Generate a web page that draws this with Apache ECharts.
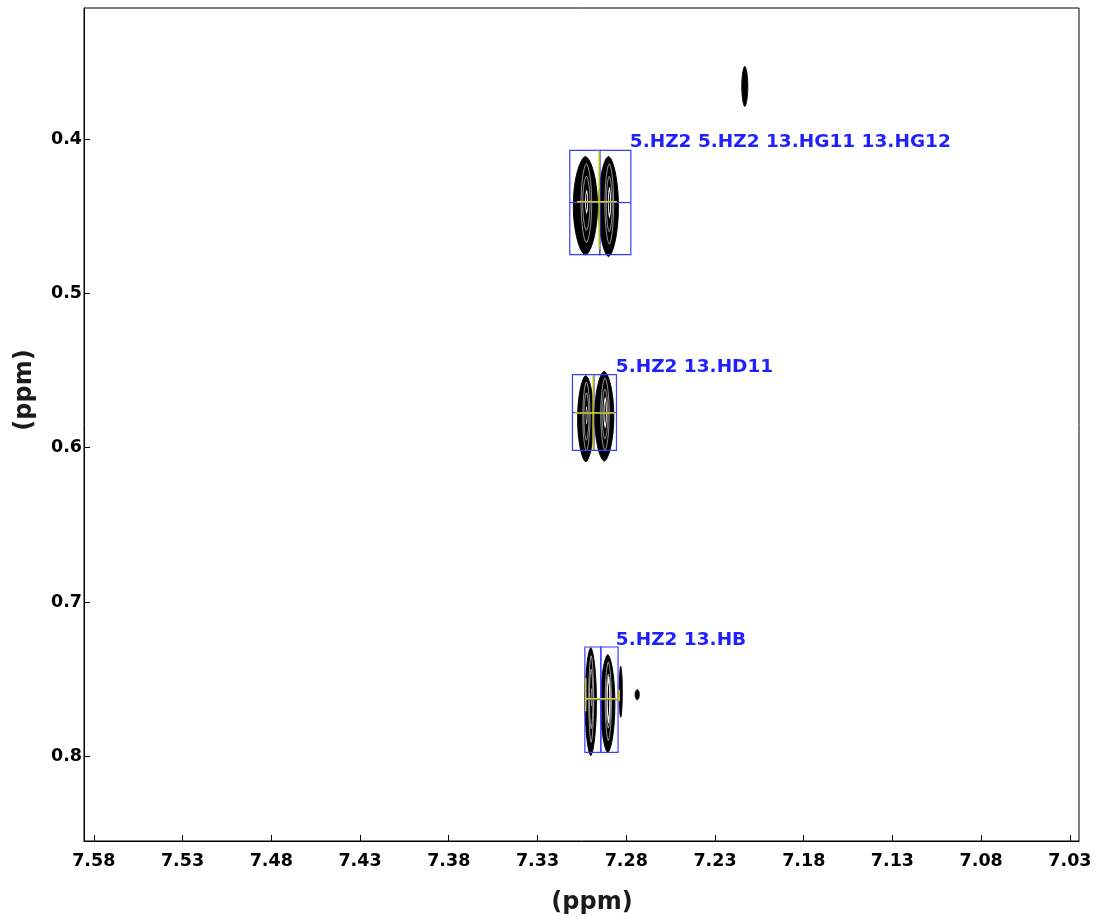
<!DOCTYPE html>
<html><head><meta charset="utf-8">
<script src="https://cdn.jsdelivr.net/npm/echarts@6/dist/echarts.min.js"></script>
<style>html,body{margin:0;padding:0;background:#fff}#c{width:1103px;height:921px}</style>
</head><body><div id="c"></div>
<script>
// Axis ranges and ticks (ppm)
const xMin = 7.0249, xMax = 7.5855;
const yMin = 0.3151, yMax = 0.8548;
const xTicks = [7.58, 7.53, 7.48, 7.43, 7.38, 7.33, 7.28, 7.23, 7.18, 7.13, 7.08, 7.03];
const yTicks = [0.4, 0.5, 0.6, 0.7, 0.8];

// Peaks: centre (ppm) and half extents (ppm)
const peakX     = [7.3030, 7.2900, 7.3028, 7.2924, 7.3000, 7.2904, 7.2831, 7.2738, 7.2132];
const peakY     = [0.4432, 0.4437, 0.5812, 0.5796, 0.7645, 0.7658, 0.7581, 0.7600, 0.3659];
const peakHalfX = [0.0068, 0.0056, 0.0046, 0.0054, 0.0032, 0.0040, 0.0009, 0.0012, 0.0017];
const peakHalfY = [0.0320, 0.0326, 0.0280, 0.0292, 0.0350, 0.0318, 0.0165, 0.0033, 0.0130];
const peakHollow = [0.35, 0.45, 0.3, 0.5, 0.25, 0.7, 0, 0, 0];

// Assignment boxes (ppm)
const boxX1 = [7.3118, 7.2949, 7.3103, 7.2983, 7.3033, 7.2943];
const boxX2 = [7.2949, 7.2774, 7.2983, 7.2855, 7.2943, 7.2846];
const boxY1 = [0.4074, 0.4074, 0.5527, 0.5527, 0.7291, 0.7291];
const boxY2 = [0.4749, 0.4749, 0.6017, 0.6017, 0.7974, 0.7974];

// Yellow marker segments (ppm)
const markX1 = [7.2953, 7.3078, 7.2987, 7.3090, 7.3028, 7.2840, 7.3028];
const markY1 = [0.4074, 0.4406, 0.5527, 0.5775, 0.7490, 0.7568, 0.7626];
const markX2 = [7.2953, 7.2853, 7.2987, 7.2864, 7.3028, 7.2840, 7.2836];
const markY2 = [0.4717, 0.4406, 0.6013, 0.5775, 0.7708, 0.7643, 0.7626];

// Assignment labels
const labelText = ['5.HZ2 5.HZ2 13.HG11 13.HG12', '5.HZ2 13.HD11', '5.HZ2 13.HB'];
const labelX = [7.2780, 7.2859, 7.2859];
const labelY = [0.4022, 0.5475, 0.7244];

const chart = echarts.init(document.getElementById('c'), null, {renderer: 'canvas'});

function lensPoints(cx, cy, a, b, p) {
  const pts = [];
  const N = 48;
  for (let i = 0; i <= N; i++) {
    const t = -1 + 2 * i / N;
    pts.push([cx + a * Math.pow(Math.max(0, 1 - t * t), p), cy + b * t]);
  }
  for (let i = N - 1; i > 0; i--) {
    const t = -1 + 2 * i / N;
    pts.push([cx - a * Math.pow(Math.max(0, 1 - t * t), p), cy + b * t]);
  }
  return pts;
}

const peakData = peakX.map((x, i) => [x, peakY[i], peakHalfX[i], peakHalfY[i], peakHollow[i]]);
const boxData = boxX1.map((x, i) => [x, boxY1[i], boxX2[i], boxY2[i]]);
const markData = markX1.map((x, i) => [x, markY1[i], markX2[i], markY2[i]]);
const labelData = labelX.map((x, i) => [x, labelY[i]]);

const fontFam = '"DejaVu Sans", Verdana, sans-serif';

chart.setOption({
  animation: false,
  backgroundColor: '#ffffff',
  grid: {left: 84, right: 24, top: 8, bottom: 80, show: true, borderColor: '#000', borderWidth: 1},
  xAxis: {
    type: 'value', inverse: true, min: xMin, max: xMax,
    splitLine: {show: false},
    axisLine: {show: true, lineStyle: {color: '#000', width: 1}},
    axisTick: {show: true, inside: true, length: 6, customValues: xTicks, lineStyle: {color: '#000'}},
    axisLabel: {customValues: xTicks, formatter: v => v.toFixed(2), margin: 11,
      color: '#000', fontSize: 17.5, fontWeight: 'bold', fontFamily: fontFam}
  },
  yAxis: {
    type: 'value', inverse: true, min: yMin, max: yMax,
    splitLine: {show: false},
    axisLine: {show: true, lineStyle: {color: '#000', width: 1}},
    axisTick: {show: true, inside: true, length: 6, customValues: yTicks, lineStyle: {color: '#000'}},
    axisLabel: {customValues: yTicks, formatter: v => v.toFixed(1), margin: 2,
      color: '#000', fontSize: 17.5, fontWeight: 'bold', fontFamily: fontFam}
  },
  graphic: [
    {type: 'text', x: 592, y: 903, style: {text: '(ppm)', align: 'center', verticalAlign: 'middle',
      fill: '#1a1a1a', font: 'bold 24px ' + fontFam}},
    {type: 'text', x: 25, y: 390, rotation: Math.PI / 2, style: {text: '(ppm)', align: 'center', verticalAlign: 'middle',
      fill: '#1a1a1a', font: 'bold 24px ' + fontFam}}
  ],
  series: [
    {
      type: 'custom', clip: true, data: peakData,
      renderItem: (params, api) => {
        const c = api.coord([api.value(0), api.value(1)]);
        const s = api.size([api.value(2), api.value(3)]);
        const hollow = api.value(4);
        const a = s[0], b = s[1];
        const children = [{type: 'polygon', shape: {points: lensPoints(c[0], c[1], a, b, 0.62)},
          style: {fill: '#000', stroke: '#000', lineWidth: 1}}];
        if (hollow > 0) {
          [0.8, 0.55].forEach(k => {
            children.push({type: 'polygon', shape: {points: lensPoints(c[0] + a * 0.08, c[1] - b * 0.05, a * k * 0.55, b * k, 0.62)},
              style: {fill: null, stroke: '#fff', lineWidth: 0.6}});
          });
          children.push({type: 'polygon', shape: {points: lensPoints(c[0] + a * 0.1, c[1] - b * 0.08, a * hollow * 0.35, b * hollow * 0.7, 0.62)},
            style: {fill: '#fff', stroke: null}});
          children.push({type: 'polygon', shape: {points: lensPoints(c[0] + a * 0.1, c[1] - b * 0.08, a * hollow * 0.15, b * hollow * 0.5, 0.62)},
            style: {fill: '#000', stroke: null}});
        }
        return {type: 'group', children};
      }
    },
    {
      type: 'custom', clip: true, data: boxData,
      renderItem: (params, api) => {
        const p1 = api.coord([api.value(0), api.value(1)]);
        const p2 = api.coord([api.value(2), api.value(3)]);
        const x = Math.min(p1[0], p2[0]), y = Math.min(p1[1], p2[1]);
        const w = Math.abs(p2[0] - p1[0]), h = Math.abs(p2[1] - p1[1]);
        return {type: 'group', children: [
          {type: 'rect', shape: {x, y, width: w, height: h}, style: {fill: null, stroke: '#3b3bff', lineWidth: 1.2}},
          {type: 'line', shape: {x1: x, y1: y + h / 2, x2: x + w, y2: y + h / 2}, style: {stroke: '#3b3bff', lineWidth: 1.2}}
        ]};
      }
    },
    {
      type: 'custom', clip: true, data: markData,
      renderItem: (params, api) => {
        const p1 = api.coord([api.value(0), api.value(1)]);
        const p2 = api.coord([api.value(2), api.value(3)]);
        return {type: 'line', shape: {x1: p1[0], y1: p1[1], x2: p2[0], y2: p2[1]},
          style: {stroke: '#d8d800', lineWidth: 1.4}};
      }
    },
    {
      type: 'custom', clip: false, data: labelData,
      renderItem: (params, api) => {
        const p = api.coord([api.value(0), api.value(1)]);
        return {type: 'text', x: p[0], y: p[1], style: {text: labelText[params.dataIndex], align: 'left',
          verticalAlign: 'middle', fill: '#1f1fff', font: 'bold 18.5px ' + fontFam}};
      }
    }
  ]
});
</script>
</body></html>
